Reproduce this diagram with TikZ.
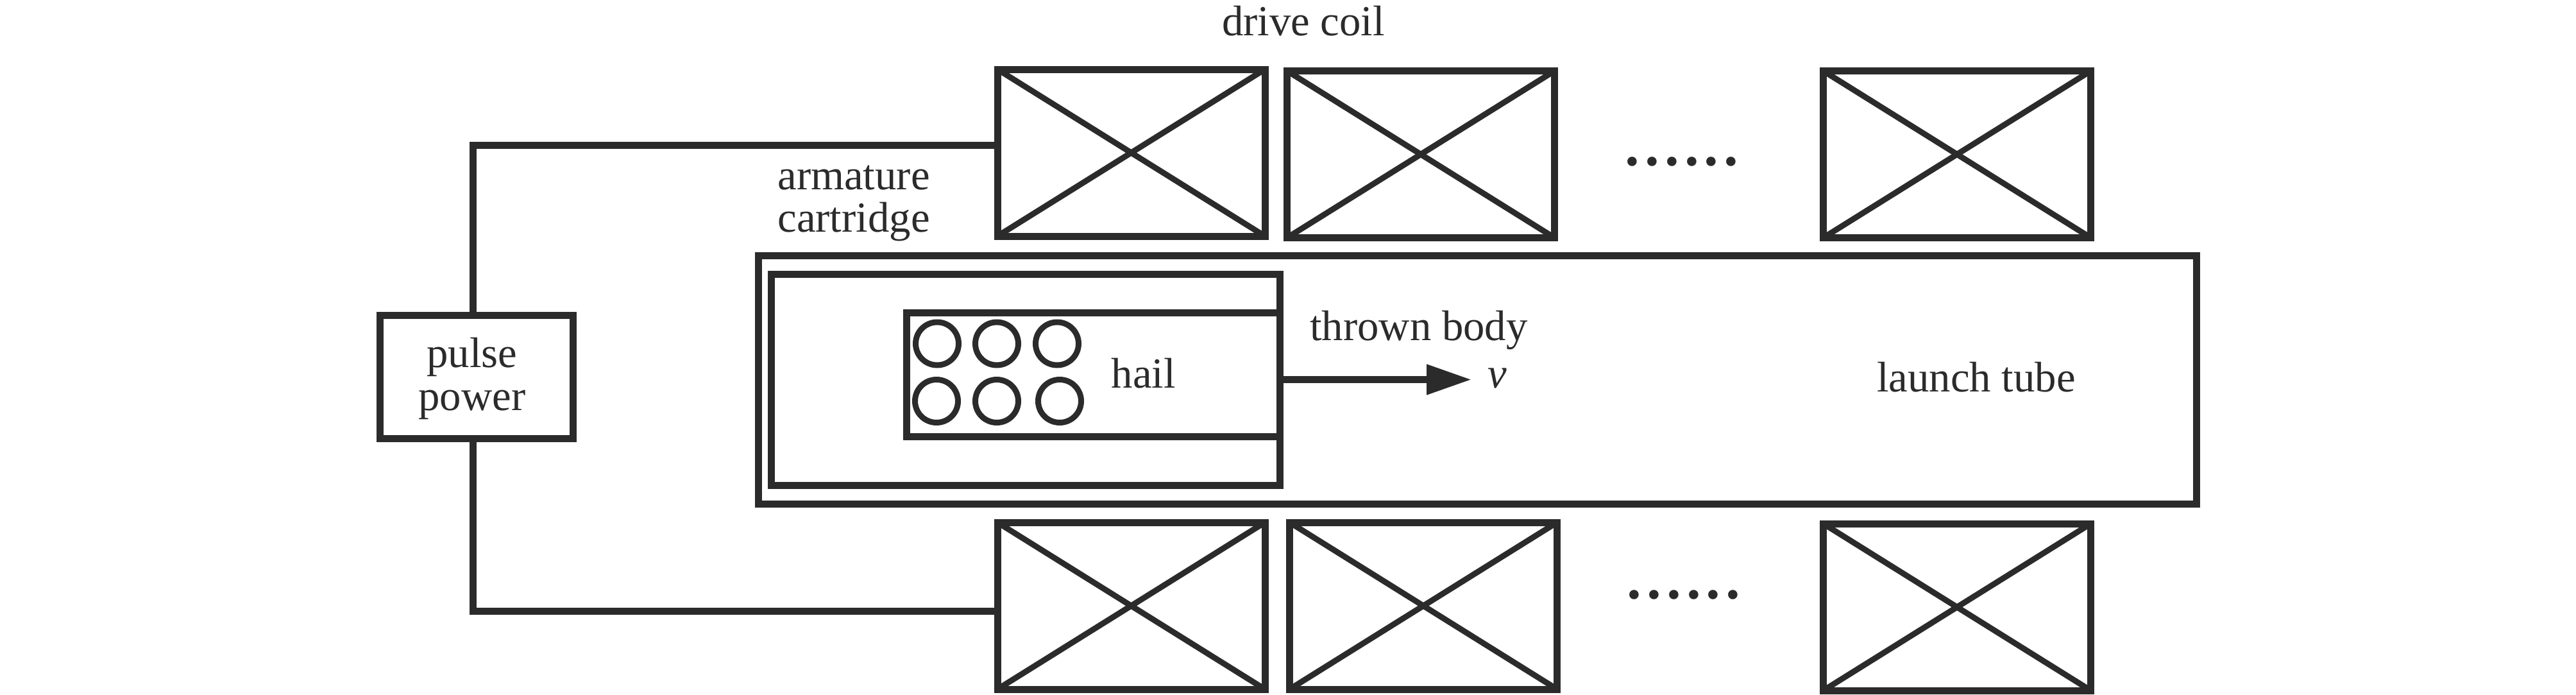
\documentclass[tikz,border=0pt]{standalone}
\usepackage{fontspec}
\setmainfont{Liberation Serif}
\usetikzlibrary{arrows.meta}
\definecolor{inkgray}{HTML}{2B2B2B}
\tikzset{
  heavy/.style={draw=inkgray,line width=0.11cm,inner sep=0,outer sep=0},
  coil/.style={heavy,minimum width=4.17cm,minimum height=2.6cm},
  thin cross/.style={draw=inkgray,line width=0.09cm},
  ball/.style={circle,draw=inkgray,line width=0.09cm,minimum size=0.67cm,inner sep=0,outer sep=0},
  label text/.style={text=inkgray,inner sep=0,outer sep=0,align=center,font=\fontsize{19}{19}\selectfont},
  dots text/.style={text=inkgray,inner sep=0,outer sep=0,anchor=base,font=\fontsize{35}{35}\selectfont}
}
\begin{document}
\begin{tikzpicture}
    \useasboundingbox (0,0) rectangle (40.16,-10.82);

    % Drawing upper coils
    \node [coil] (coilua) at (17.635,-2.38) {};
    \node [coil] (coilub) at (22.15,-2.405) {};
    \node [coil] (coiluc) at (30.51,-2.405) {};

    % Drawing lower coils
    \node [coil] (coilla) at (17.635,-9.44) {};
    \node [coil] (coillb) at (22.19,-9.44) {};
    \node [coil] (coillc) at (30.51,-9.46) {};

    % Marking the crosses
    \foreach \c in {coilua,coilub,coiluc,coilla,coillb,coillc} {
        \draw [thin cross] (\c.north west) -- (\c.south east);
        \draw [thin cross] (\c.north east) -- (\c.south west);
    }

    % Drawing launch tube, cartridge and hail box
    \node [heavy,minimum width=22.42cm,minimum height=3.87cm] (tube) at (23.03,-5.915) {};
    \node [heavy,minimum width=7.93cm,minimum height=3.29cm] (cartridge) at (15.985,-5.915) {};
    \node [heavy,minimum width=5.82cm,minimum height=1.93cm] (hailbox) at (17.04,-5.835) {};

    % Drawing hail balls
    \node [ball] (balla) at (14.61,-5.355) {};
    \node [ball] (ballb) at (15.54,-5.355) {};
    \node [ball] (ballc) at (16.48,-5.355) {};
    \node [ball] (balld) at (14.60,-6.25) {};
    \node [ball] (balle) at (15.54,-6.25) {};
    \node [ball] (ballf) at (16.52,-6.25) {};

    % Drawing pulse power and its wires
    \node [heavy,minimum width=3.01cm,minimum height=1.92cm] (power) at (7.425,-5.87) {};
    \node [label text] (powerlabel) at (7.36,-5.90) {pulse\\power};
    \coordinate (wireup) at (7.37,-2.26);
    \coordinate (wiredown) at (7.37,-9.52);
    \draw [heavy] (power.north -| wireup) -- (wireup) -- (wireup -| coilua.west);
    \draw [heavy] (power.south -| wiredown) -- (wiredown) -- (wiredown -| coilla.west);

    % Drawing velocity arrow
    \coordinate (tip) at (22.94,-5.915);
    \draw [heavy,-{Triangle[length=0.7cm,width=0.45cm]},fill=inkgray] (cartridge.east) -- (tip);

    % Labels
    \node [label text,anchor=base] (coillabel) at (20.32,-0.55) {drive coil};
    \node [label text] (armlabel) at (13.31,-3.17) {armature\\cartridge};
    \node [label text,anchor=base] (hail) at (17.83,-6.04) {hail};
    \node [label text,anchor=base] (body) at (22.12,-5.30) {thrown body};
    \node [label text,anchor=base] (speed) at (23.34,-6.04) {\textit{v}};
    \node [label text,anchor=base] (tubelabel) at (30.81,-6.10) {launch tube};

    % Dots between the coils
    \node [dots text] (dotsu) at (26.22,-2.57) {......};
    \node [dots text] (dotsl) at (26.25,-9.32) {......};
\end{tikzpicture}
\end{document}
